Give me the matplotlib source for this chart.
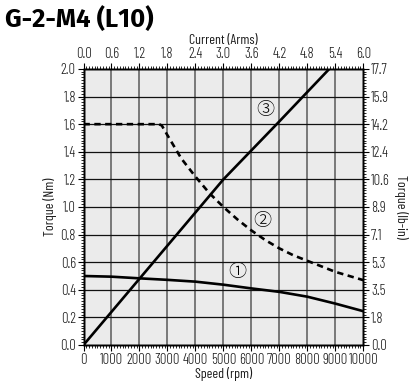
import matplotlib.pyplot as plt
from matplotlib.ticker import MultipleLocator

# Continuous torque (1) and peak torque (2) vs speed
speed_rpm = [0, 1000, 2000, 3000, 4000, 5000, 6000, 7000, 8000, 9000, 10000]
cont_torque = [0.50, 0.495, 0.483, 0.472, 0.459, 0.437, 0.41, 0.385, 0.35, 0.30, 0.245]

peak_speed = [0, 2700, 2800, 3000, 3500, 4000, 4500, 5000, 5500, 6000, 6500,
              7000, 7500, 8000, 8500, 9000, 9500, 10000]
peak_torque = [1.6, 1.6, 1.59, 1.52, 1.35, 1.22, 1.10, 1.0, 0.91, 0.83, 0.76,
               0.70, 0.65, 0.61, 0.57, 0.53, 0.50, 0.47]

# Torque vs current (3)
current_a = [0, 1.2, 3.0, 4.2, 5.27]
kt_torque = [0, 0.48, 1.2, 1.62, 2.0]

nm_ticks = [0.0, 0.2, 0.4, 0.6, 0.8, 1.0, 1.2, 1.4, 1.6, 1.8, 2.0]
lbin_labels = ['0.0', '1.8', '3.5', '5.3', '7.1', '8.9', '10.6', '12.4', '14.2', '15.9', '17.7']

plt.rcParams['font.family'] = ['Barlow Condensed', 'DejaVu Sans']
plt.rcParams['font.weight'] = 300

fig = plt.figure(figsize=(4.14, 3.81), dpi=100)
ax = fig.add_axes([0.2017, 0.0945, 0.6758, 0.7245])
ax.set_facecolor('#ebebeb')

ax.set_xlim(0, 10000)
ax.set_ylim(0, 2.0)
ax.xaxis.set_major_locator(MultipleLocator(1000))
ax.xaxis.set_minor_locator(MultipleLocator(100))
ax.set_yticks(nm_ticks)
ax.set_yticklabels([f'{v:.1f}' for v in nm_ticks])
ax.yaxis.set_minor_locator(MultipleLocator(0.02))

# grid: vertical lines grey, horizontal lines black
for x in range(1000, 10000, 1000):
    ax.axvline(x, color='#707070', lw=1.3, zorder=1)
for y in nm_ticks[1:-1]:
    ax.axhline(y, color='#111111', lw=0.9, zorder=1)

ax.plot(speed_rpm, cont_torque, color='black', lw=1.9, zorder=3)
ax.plot(peak_speed, peak_torque, color='black', lw=1.9, zorder=3,
        linestyle=(0, (2.4, 1.7)))

ax_top = ax.twiny()
ax_top.set_xlim(0, 6.0)
ax_top.set_xticks([i * 0.6 for i in range(11)])
ax_top.set_xticklabels([f'{i * 0.6:.1f}' for i in range(11)])
ax_top.xaxis.set_minor_locator(MultipleLocator(0.06))
ax_top.plot(current_a, kt_torque, color='black', lw=1.9, zorder=3)

ax_r = ax.twinx()
ax_r.set_ylim(0, 2.0)
ax_r.set_yticks(nm_ticks)
ax_r.set_yticklabels(lbin_labels)
ax_r.yaxis.set_minor_locator(MultipleLocator(0.02))

for a in (ax, ax_top, ax_r):
    a.tick_params(which='major', direction='out', length=4, width=0.8,
                  labelsize=10.5, pad=1.5, color='black', labelcolor='#1a1a1a')
    a.tick_params(which='minor', direction='out', length=2, width=0.6, color='black')
    for s in a.spines.values():
        s.set_linewidth(1.0)

ax.set_xlabel('Speed (rpm)', fontsize=10, labelpad=0, color='#1a1a1a')
ax.set_ylabel('Torque (Nm)', fontsize=10, labelpad=2, color='#1a1a1a')
ax_top.set_xlabel('Current (Arms)', fontsize=10, labelpad=2.5, color='#1a1a1a')
ax_r.set_ylabel('Torque (lb-in)', fontsize=10, rotation=270, labelpad=13, color='#1a1a1a')

circ = dict(fontsize=13, ha='center', va='center', zorder=4,
            family=['Noto Sans CJK JP', 'DejaVu Sans'])
ax.text(6500, 1.70, '③', **circ)
ax.text(6400, 0.90, '②', **circ)
ax.text(5500, 0.527, '①', **circ)

fig.text(0.012, 0.947, 'G-2-M4 (L10)', fontsize=18.5, fontweight='bold',
         family=['Fira Sans', 'DejaVu Sans'], ha='left', va='center')

plt.savefig('out.png', dpi=100)
plt.close(fig)
